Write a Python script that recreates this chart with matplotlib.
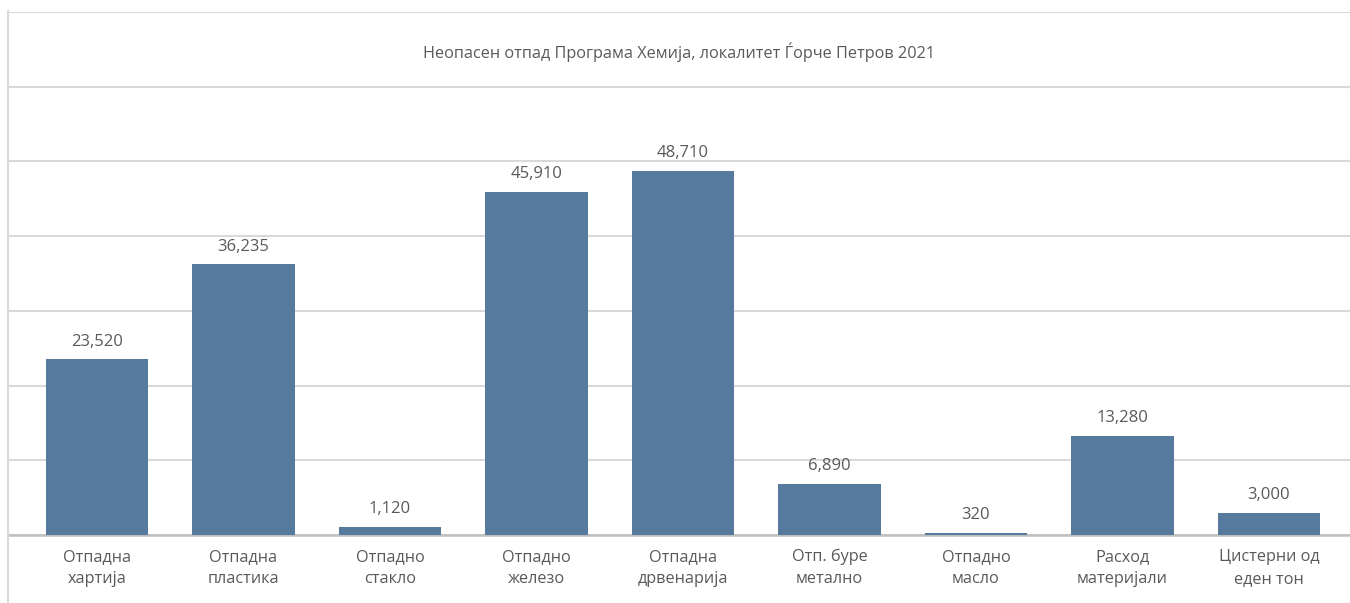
import numpy as np
import matplotlib.pyplot as plt
from matplotlib.lines import Line2D

plt.rcParams['font.family'] = ['Open Sans', 'DejaVu Sans']

categories = [
    'Отпадна\nхартија', 'Отпадна\nпластика', 'Отпадно\nстакло',
    'Отпадно\nжелезо', 'Отпадна\nдрвенарија', 'Отп. буре\nметално',
    'Отпадно\nмасло', 'Расход\nматеријали', 'Цистерни од\nеден тон',
]
values = [23520, 36235, 1120, 45910, 48710, 6890, 320, 13280, 3000]
title = 'Неопасен отпад Програма Хемија, локалитет Ѓорче Петров 2021'

W, H = 1350, 603
fig = plt.figure(figsize=(W / 100, H / 100), dpi=100)
# plot area: left border x=8, baseline y=535, top gridline y=12
ax = fig.add_axes([8 / W, 1 - 535 / H, 1 - 8 / W, (535 - 12) / H])

text_col = '#595959'
grid_col = '#d9d9d9'
bar_col = '#557a9e'

x = np.arange(len(categories))
bars = ax.bar(x, values, width=0.70, color=bar_col, zorder=3)

for b, v in zip(bars, values):
    ax.annotate(f'{v:,}', (b.get_x() + b.get_width() / 2, v),
                xytext=(0, 7), textcoords='offset points',
                ha='center', va='bottom', fontsize=12, color=text_col)

ax.set_xlim(-0.6075, 8.553)
ax.set_ylim(0, 70000)
ax.set_yticks(np.arange(0, 70001, 10000))
ax.yaxis.grid(True, color=grid_col, linewidth=1.5, zorder=0)
ax.tick_params(axis='y', left=False, labelleft=False)
ax.tick_params(axis='x', length=0, pad=10, labelsize=11.7, labelcolor=text_col)
ax.set_xticks(x)
ax.set_xticklabels(categories, linespacing=1.5)
for s in ['top', 'right', 'left']:
    ax.spines[s].set_visible(False)
ax.spines['bottom'].set_color('#bfbfbf')
ax.spines['bottom'].set_linewidth(1.8)

ax.text(0.5, (535 - 52) / (535 - 12), title, transform=ax.transAxes,
        ha='center', va='center', fontsize=11.7, color=text_col)

# outer left border of the chart
fig.add_artist(Line2D([8 / W, 8 / W], [0, 1 - 11 / H], color=grid_col,
                      linewidth=1.5, transform=fig.transFigure))

fig.savefig('out.png', dpi=100, facecolor='white')
